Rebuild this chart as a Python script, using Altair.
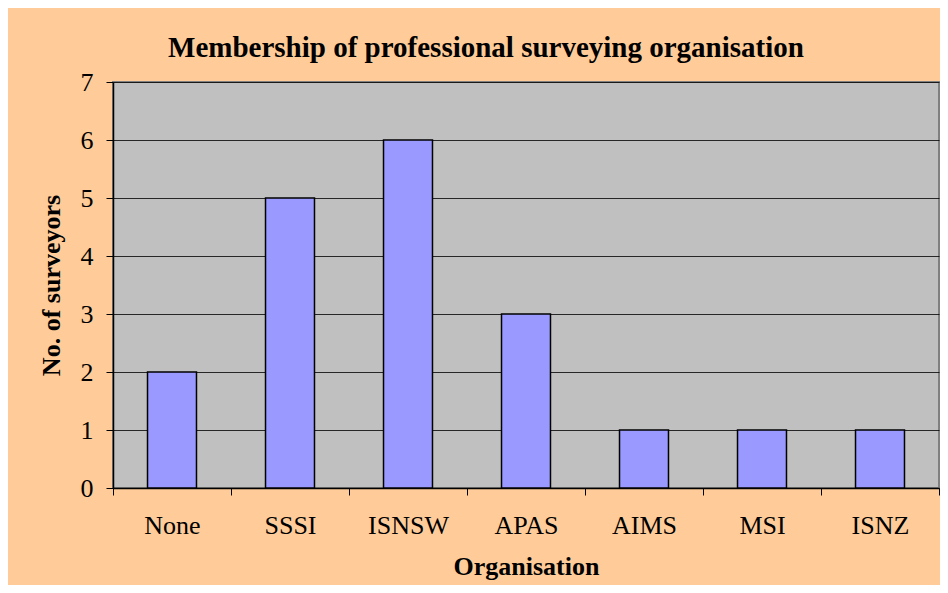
import altair as alt
import pandas as pd

categories = ["None", "SSSI", "ISNSW", "APAS", "AIMS", "MSI", "ISNZ"]
counts = [2, 5, 6, 3, 1, 1, 1]
y_ticks = [0, 1, 2, 3, 4, 5, 6, 7]

df = pd.DataFrame({"Organisation": categories, "count": counts})

FONT = "'Liberation Serif', 'Times New Roman', 'DejaVu Serif', serif"

chart = (
    alt.Chart(df)
    .mark_bar(color="#9999FF", stroke="#000000", strokeWidth=1.5,
              width=alt.RelativeBandSize(0.415))
    .encode(
        x=alt.X("Organisation:N", sort=categories,
                scale=alt.Scale(paddingInner=0, paddingOuter=0),
                axis=alt.Axis(title="Organisation", labelAngle=0, tickBand="extent",
                              tickSize=7, tickColor="#000000", domainColor="#000000",
                              domainWidth=1.5, tickWidth=1, grid=False,
                              labelFont=FONT, labelFontSize=26, labelColor="#000000",
                              labelPadding=17, titleFont=FONT, titleFontSize=26,
                              titleFontWeight="bold", titleColor="#000000",
                              titlePadding=15)),
        y=alt.Y("count:Q", scale=alt.Scale(domain=[0, 7]),
                axis=alt.Axis(title="No. of surveyors", values=y_ticks, format="d",
                              tickSize=7, tickColor="#000000", domainColor="#000000",
                              domainWidth=1.5, grid=True, gridColor="#000000",
                              gridWidth=1, gridOpacity=0.8,
                              labelFont=FONT, labelFontSize=26, labelColor="#000000",
                              labelPadding=13, titleFont=FONT, titleFontSize=26,
                              titleFontWeight="bold", titleColor="#000000",
                              titlePadding=16)),
    )
    .properties(
        width=826,
        height=406,
        title=alt.TitleParams("Membership of professional surveying organisation",
                              font=FONT, fontSize=29, fontWeight="bold", color="#000000",
                              anchor="middle", dx=-40, offset=6),
        autosize=alt.AutoSizeParams(type="none"),
        padding={"left": 105, "top": 74, "right": 1, "bottom": 97},
        background="#FFCC99",
    )
    .configure_view(fill="#C0C0C0", stroke="#808080", strokeWidth=2)
)

chart.save("out.html", embed_options={"renderer": "svg", "actions": False})
